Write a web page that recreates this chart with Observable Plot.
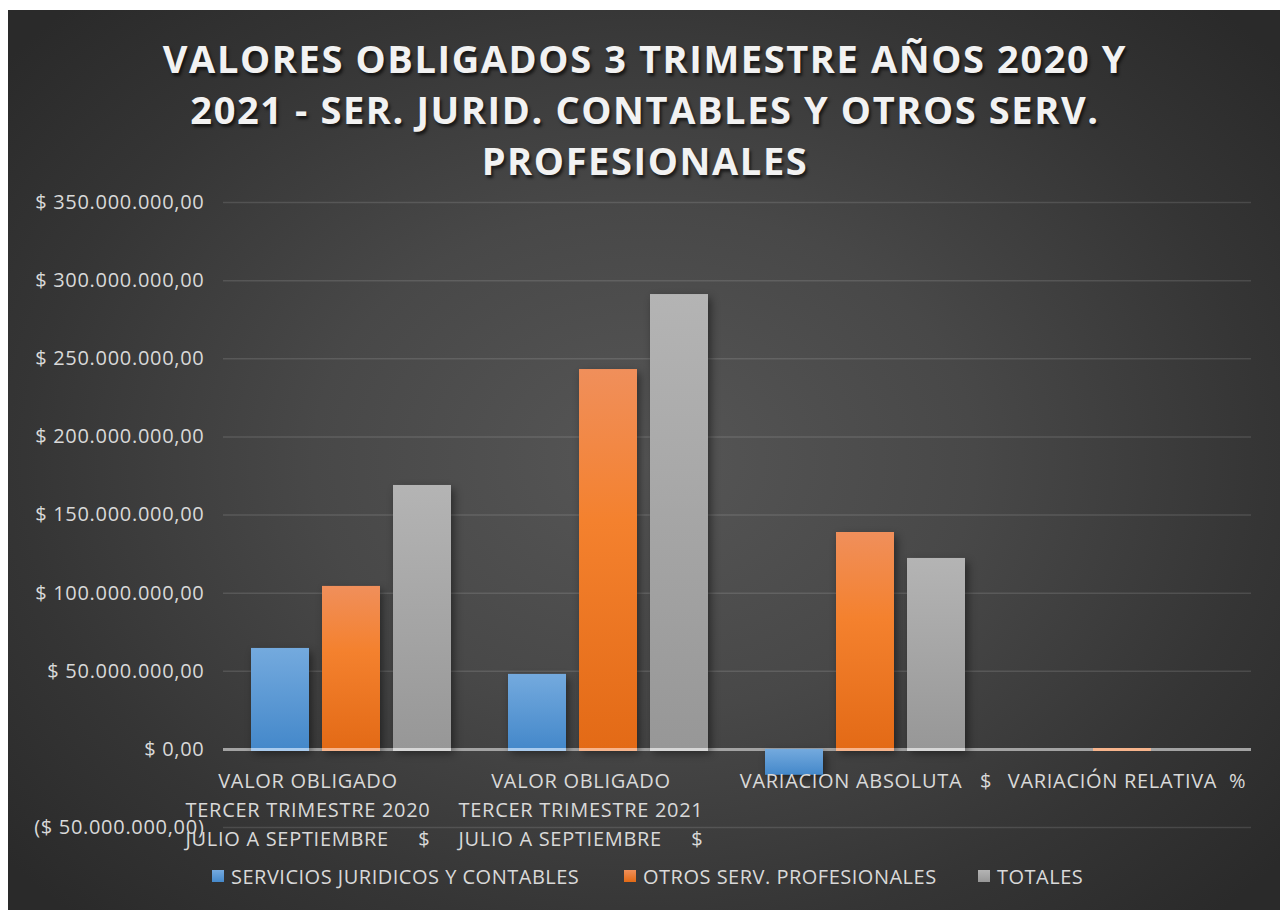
<!DOCTYPE html>
<html><head><meta charset="utf-8">
<script src="https://cdn.jsdelivr.net/npm/d3@7"></script>
<script src="https://cdn.jsdelivr.net/npm/@observablehq/plot@0.6"></script>
<style>
html,body{margin:0;padding:0;background:#fff;width:1280px;height:910px;overflow:hidden;position:relative;}
#bg{position:absolute;left:8px;top:10px;width:1272px;height:900px;
 background:radial-gradient(ellipse 65% 70% at 50% 50%, #565656 0%, #484848 40%, #353535 75%, #2a2a2a 100%);}
#title{position:absolute;left:10px;top:33px;width:1270px;text-align:center;color:#f2f2f2;
 font-family:"Open Sans",sans-serif;font-weight:700;font-size:38px;line-height:51px;letter-spacing:1.6px;
 text-shadow:2px 3px 3px rgba(0,0,0,0.6);}
#plot{position:absolute;left:0;top:0;}
#plot svg text{white-space:pre;letter-spacing:0.7px;}
#legend{position:absolute;top:862px;left:0;width:1280px;height:28px;font-family:"Open Sans",sans-serif;font-size:20px;letter-spacing:0.5px;color:#d9d9d9;}
#legend .item{position:absolute;top:0;display:flex;align-items:center;height:28px;white-space:nowrap;}
#legend .sw{width:12px;height:12px;margin-right:7px;}
</style></head>
<body>
<div id="bg"></div>
<div id="title">VALORES OBLIGADOS 3 TRIMESTRE AÑOS 2020 Y<br>2021 - SER. JURID. CONTABLES Y OTROS SERV.<br>PROFESIONALES</div>
<div id="plot"></div>
<div id="legend"></div>
<script>
const categories = [
  "VALOR OBLIGADO\nTERCER TRIMESTRE 2020\nJULIO A SEPTIEMBRE     $",
  "VALOR OBLIGADO\nTERCER TRIMESTRE 2021\nJULIO A SEPTIEMBRE     $",
  "VARIACION ABSOLUTA   $",
  "VARIACIÓN RELATIVA  %"
];
const series = ["SERVICIOS JURIDICOS Y CONTABLES", "OTROS SERV. PROFESIONALES", "TOTALES"];
const serviciosJuridicos = [64600000, 48000000, -16600000, -0.26];
const otrosServ = [104300000, 243100000, 138800000, 1.33];
const totales = [168900000, 291100000, 122200000, 0.72];
const yTicks = [-50000000, 0, 50000000, 100000000, 150000000, 200000000, 250000000, 300000000, 350000000];

const seriesValues = [serviciosJuridicos, otrosServ, totales];
const fills = ["url(#gBlue)", "url(#gOrange)", "url(#gGray)"];
const edge = ["#a9cbee", "#f7b48c", "#d6d6d6"];
const swatch = ["linear-gradient(#75aadf,#4589cb)", "linear-gradient(#f0905a,#e36a15)", "linear-gradient(#b4b4b4,#979797)"];

const data = [];
categories.forEach((c, i) => series.forEach((s, j) => data.push({cat: c, series: s, si: j, value: seriesValues[j][i]})));

const loc = d3.formatLocale({decimal: ",", thousands: ".", grouping: [3], currency: ["$", ""]});
const num = loc.format(",.2f");
const fmt = v => v < 0 ? `($ ${num(-v)})` : `$ ${num(v)}`;

const labelDx = [-44, -28, 0, 4];
const font = '"Open Sans", sans-serif';

const chart = Plot.plot({
  width: 1280, height: 910,
  marginTop: 202, marginBottom: 83, marginLeft: 222, marginRight: 29,
  style: {background: "transparent", color: "#d9d9d9", fontFamily: font, fontSize: "20px", overflow: "visible"},
  fx: {domain: categories, padding: 0, axis: null},
  x: {domain: series, paddingInner: 0.183, paddingOuter: 0.4, axis: null},
  y: {domain: [-50000000, 350000000], axis: null},
  color: {type: "identity"},
  marks: [
    Plot.ruleY(yTicks.filter(v => v !== 0), {stroke: "#ffffff", strokeOpacity: 0.12, strokeWidth: 1.5}),
    Plot.axisY(yTicks, {tickSize: 0, tickPadding: 19, tickFormat: fmt, fontSize: 20, fill: "#d9d9d9", label: null}),
    Plot.ruleY([0], {stroke: "#a3a3a3", strokeWidth: 3}),
    Plot.barY(data, {fx: "cat", x: "series", y: "value", fill: d => fills[d.si]}),
    Plot.tickY(data.filter(d => d.value > 1), {fx: "cat", x: "series", y: () => 0, stroke: d => edge[d.si], strokeWidth: 3}),
    ...categories.map((c, i) => Plot.text([c], {
      fx: d => d, y: () => 0, text: d => d, lineAnchor: "top", lineHeight: 1.45,
      dy: 18, dx: labelDx[i], fontSize: 20, fill: "#d9d9d9"
    }))
  ]
});

const svg = d3.select(chart);
const defs = svg.insert("defs", ":first-child");
function grad(id, stops) {
  const g = defs.append("linearGradient").attr("id", id).attr("x1", 0).attr("y1", 0).attr("x2", 0).attr("y2", 1);
  stops.forEach(([o, c]) => g.append("stop").attr("offset", o).attr("stop-color", c));
}
grad("gBlue", [["0%", "#74aade"], ["100%", "#4488ca"]]);
grad("gOrange", [["0%", "#f08f5b"], ["40%", "#f4812e"], ["100%", "#e36a16"]]);
grad("gGray", [["0%", "#b4b4b4"], ["100%", "#979797"]]);
svg.selectAll('g[aria-label="bar"] rect').style("filter", "drop-shadow(3px 4px 4px rgba(0,0,0,0.45))");
document.getElementById("plot").appendChild(chart);

const legendX = [212, 624, 978];
const legend = d3.select("#legend");
series.forEach((s, j) => {
  const it = legend.append("div").attr("class", "item").style("left", legendX[j] + "px");
  it.append("div").attr("class", "sw").style("background", swatch[j]);
  it.append("span").text(s);
});
</script>
</body></html>
